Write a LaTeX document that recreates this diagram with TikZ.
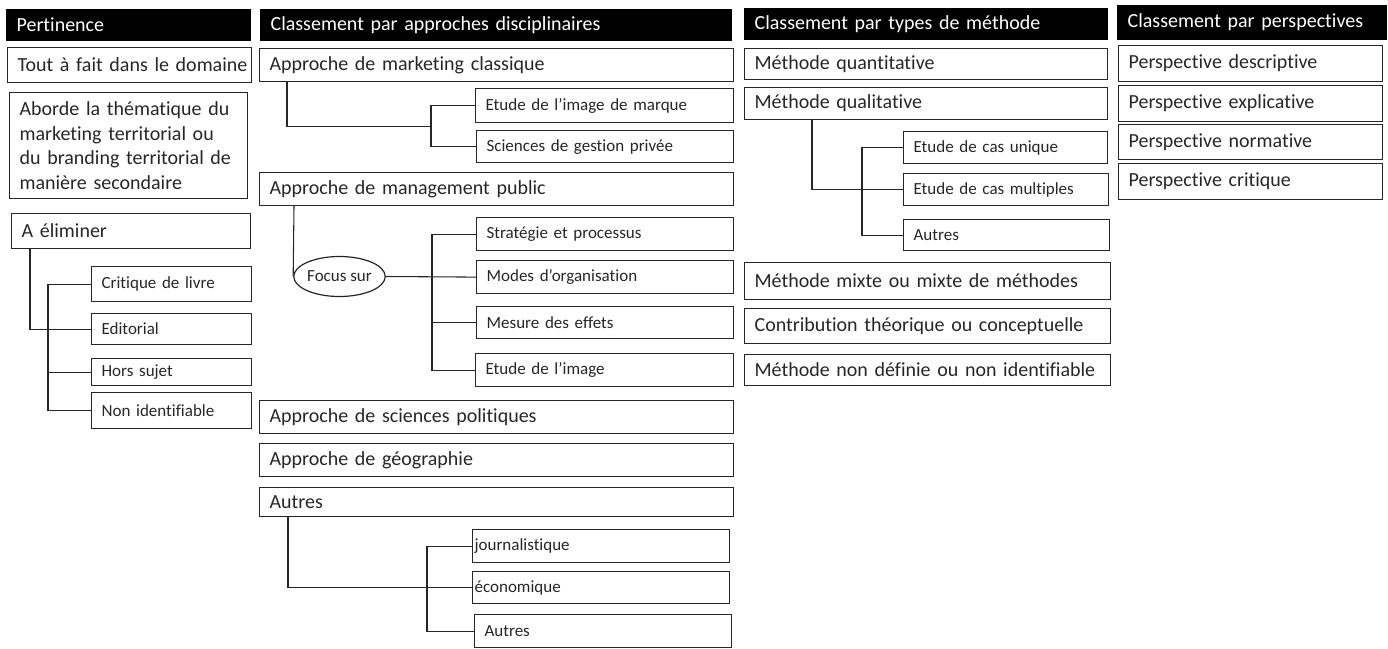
\documentclass[tikz,border=0pt]{standalone}
\usepackage{fontspec}
\setmainfont{Carlito}[Ligatures=NoCommon]
\usetikzlibrary{calc,shapes.geometric}
\newcommand\mainsz{\fontsize{15}{18.3}\selectfont}
\newcommand\subsz{\fontsize{12.75}{15.5}\selectfont}
\tikzset{
  boxst/.style={draw=black!85, line width=0.9pt, rectangle, inner xsep=7.5pt, inner ysep=0pt,
    align=left, font=\mainsz, text=black!85},
  headbx/.style={fill=black, draw=black, text=white},
  subbx/.style={font=\subsz},
  conn/.style={draw=black!85, line width=0.8pt},
  ovalst/.style={ellipse, draw=black!85, line width=0.9pt, inner sep=0pt, font=\subsz, text=black!85,
    minimum width=68.25pt, minimum height=30pt},
}
\newcommand\BX[7][]{%
  \pgfmathsetmacro\bxw{(#5-#3)*0.75}%
  \pgfmathsetmacro\bxh{(#6-#4)*0.75}%
  \pgfmathsetmacro\bxt{\bxw-15}%
  \node[boxst,anchor=north west,minimum width=\bxw pt,minimum height=\bxh pt,text width=\bxt pt,#1] (#2) at (#3,#4) {#7};%
}
\begin{document}
\begin{tikzpicture}[x=0.75pt,y=-0.75pt]
\useasboundingbox (0,0) rectangle (1388,649);
% Column 1
\BX[headbx]{h1}{6}{9}{250}{40}{Pertinence}
\BX{p1}{7}{47}{251}{82}{\mbox{Tout à fait dans le domaine}}
\BX{p2}{9}{92}{247}{198}{Aborde la thématique du\\marketing territorial ou\\du branding territorial de\\manière secondaire}
\BX{elim}{11}{213}{250}{248}{A éliminer}
\BX[subbx]{crit}{91}{266}{251}{301}{Critique de livre}
\BX[subbx]{edit}{91}{313}{251}{344}{Editorial}
\BX[subbx]{hors}{91}{358}{251}{385}{Hors sujet}
\BX[subbx]{nonid}{91}{392}{251}{428}{Non identifiable}
% Column 2
\BX[headbx]{h2}{260}{9}{731}{40}{Classement par approches disciplinaires}
\BX{amc}{259}{48}{733}{81}{Approche de marketing classique}
\BX[subbx]{etm}{475}{88}{733}{122}{Etude de l’image de marque}
\BX[subbx]{sgp}{476}{130}{733}{162}{Sciences de gestion privée}
\BX{amp}{259}{172}{733}{205}{Approche de management public}
\BX[subbx]{strat}{476}{217}{733}{250}{Stratégie et processus}
\BX[subbx]{modes}{476}{260}{733}{293}{Modes d’organisation}
\BX[subbx]{mes}{476}{306}{733}{338}{Mesure des effets}
\BX[subbx]{etim}{475}{353}{733}{386}{Etude de l’image}
\node[ovalst] (focus) at (339.5,276.5) {Focus sur};
\BX{asp}{259}{400}{733}{433}{Approche de sciences politiques}
\BX{ageo}{259}{443}{733}{476}{Approche de géographie}
\BX{aut}{259}{487}{733}{516}{Autres}
\BX[subbx]{jour}{472}{529}{729}{562}{\hspace*{-6pt}journalistique}
\BX[subbx]{eco}{472}{571}{729}{603}{\hspace*{-6pt}économique}
\BX[subbx]{aut2}{474}{614}{731}{647}{Autres}
% Column 3
\BX[headbx]{h3}{744}{8}{1107}{39}{Classement par types de méthode}
\BX{mquant}{744}{48}{1107}{79}{Méthode quantitative}
\BX{mqual}{744}{87}{1107}{119}{Méthode qualitative}
\BX[subbx]{ecu}{903}{131}{1107}{163}{Etude de cas unique}
\BX[subbx]{ecm}{903}{173}{1108}{205}{Etude de cas multiples}
\BX[subbx]{aut3}{903}{219}{1109}{250}{Autres}
\BX{mmix}{744}{262}{1110}{299}{Méthode mixte ou mixte de méthodes}
\BX{contr}{744}{308}{1110}{343}{Contribution théorique ou conceptuelle}
\BX{mnd}{744}{354}{1110}{385}{Méthode non définie ou non identifiable}
% Column 4
\BX[headbx]{h4}{1117}{5}{1386}{39}{Classement par perspectives}
\BX{pd}{1118}{45}{1382}{81}{Perspective descriptive}
\BX{pe}{1118}{85}{1382}{121}{Perspective explicative}
\BX{pn}{1118}{124}{1382}{159}{Perspective normative}
\BX{pc}{1118}{163}{1382}{199}{Perspective critique}
% Connectors column 1
\draw[conn] ($(elim.south west)+(19,0)$) |- (edit.west);
\draw[conn] (crit.west) -- ++(-43,0) |- (nonid.west);
\draw[conn] (hors.west) -- ++(-43,0);
% Connectors column 2
\draw[conn] ($(amc.south west)+(28,0)$) |- ($(etm.west)!.5!(sgp.west)+(-44,0)$);
\draw[conn] (etm.west) -- ++(-44,0) |- (sgp.west);
\draw[conn] ($(amp.south west)+(35,0)$) -- (focus.west);
\draw[conn] (focus.east) -- (modes.west);
\draw[conn] (strat.west) -- ++(-44,0) |- (etim.west);
\draw[conn] (mes.west) -- ++(-44,0);
\draw[conn] ($(aut.south west)+(29,0)$) |- (eco.west);
\draw[conn] (jour.west) -- ++(-45,0) |- (aut2.west);
% Connectors column 3
\draw[conn] ($(mqual.south west)+(68,0)$) |- (ecm.west);
\draw[conn] (ecu.west) -- ++(-41,0) |- (aut3.west);
\end{tikzpicture}
\end{document}
